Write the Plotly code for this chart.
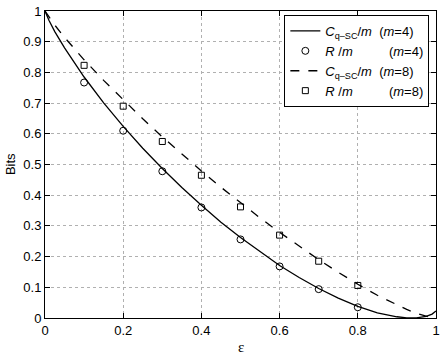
import plotly.graph_objects as go

# capacity curves
eps_curve = [0, 0.01, 0.025, 0.05, 0.1, 0.15, 0.2, 0.25, 0.3, 0.35, 0.4, 0.45, 0.5,
             0.55, 0.6, 0.65, 0.7, 0.75, 0.8, 0.85, 0.875, 0.9, 0.925, 0.95, 0.975, 0.99, 1]
cap_m4 = [1, 0.970, 0.933, 0.880, 0.785, 0.701, 0.624, 0.553, 0.487, 0.425, 0.367, 0.312, 0.262,
          0.215, 0.171, 0.132, 0.096, 0.065, 0.038, 0.017, 0.0095, 0.004, 0.0005, 0.0005, 0.0055, 0.0128, 0.023]
cap_m8 = [1, 0.980, 0.954, 0.914, 0.841, 0.774, 0.710, 0.649, 0.590, 0.533, 0.479, 0.426, 0.375,
          0.326, 0.279, 0.234, 0.190, 0.149, 0.110, 0.074, 0.058, 0.042, 0.028, 0.015, 0.0046, 0.0006, 0.0007]

# simulated rates (markers)
eps_pts = [0.1, 0.2, 0.3, 0.4, 0.5, 0.6, 0.7, 0.8]
rate_m4 = [0.767, 0.61, 0.478, 0.36, 0.256, 0.168, 0.094, 0.035]
rate_m8 = [0.823, 0.69, 0.575, 0.465, 0.362, 0.27, 0.185, 0.106]

x_ticks = [0, 0.2, 0.4, 0.6, 0.8, 1]
x_labels = ["0", "0.2", "0.4", "0.6", "0.8", "1"]
y_ticks = [i / 10 for i in range(11)]
y_labels = ["0", "0.1", "0.2", "0.3", "0.4", "0.5", "0.6", "0.7", "0.8", "0.9", "1"]

sp = "\u00a0"
name_c4 = "<i>C</i><sub>q\u2013SC</sub>/<i>m</i>" + sp * 2 + "(<i>m</i>=4)"
name_r4 = "<i>R</i>" + sp + "/<i>m</i>" + sp * 10 + "(<i>m</i>=4)"
name_c8 = "<i>C</i><sub>q\u2013SC</sub>/<i>m</i>" + sp * 2 + "(<i>m</i>=8)"
name_r8 = "<i>R</i>" + sp + "/<i>m</i>" + sp * 10 + "(<i>m</i>=8)"

fig = go.Figure()
fig.add_trace(go.Scatter(x=eps_curve, y=cap_m4, mode="lines", name=name_c4,
                         line=dict(color="black", width=1.3)))
fig.add_trace(go.Scatter(x=eps_pts, y=rate_m4, mode="markers", name=name_r4,
                         marker=dict(symbol="circle-open", size=7, color="black",
                                     line=dict(width=1))))
fig.add_trace(go.Scatter(x=eps_curve, y=cap_m8, mode="lines", name=name_c8,
                         line=dict(color="black", width=1.3, dash="dash")))
fig.add_trace(go.Scatter(x=eps_pts, y=rate_m8, mode="markers", name=name_r8,
                         marker=dict(symbol="square-open", size=6, color="black",
                                     line=dict(width=1))))

axis_style = dict(showline=True, linecolor="black", linewidth=1, mirror="ticks",
                  ticks="inside", ticklen=5, tickcolor="black", automargin=False,
                  ticklabeloverflow="allow",
                  showgrid=True, gridcolor="#b0b0b0", griddash="dot", gridwidth=1,
                  zeroline=False, tickfont=dict(size=13, color="black"))

fig.update_xaxes(range=[0, 1], tickvals=x_ticks, ticktext=x_labels, **axis_style)
fig.update_yaxes(range=[0, 1], tickvals=y_ticks, ticktext=y_labels, **axis_style)

fig.add_annotation(text="\u03b5", xref="paper", yref="paper", x=0.5, y=-0.094,
                   xanchor="center", yanchor="middle", showarrow=False,
                   font=dict(family="Liberation Serif", size=15, color="black"))
fig.add_annotation(text="Bits", xref="paper", yref="paper", x=-0.088, y=0.5,
                   xanchor="center", yanchor="middle", showarrow=False, textangle=-90,
                   font=dict(size=13, color="black"))

fig.update_layout(
    width=443, height=355,
    margin=dict(l=45, r=7, t=11, b=37),
    paper_bgcolor="white", plot_bgcolor="white",
    font=dict(family="Liberation Sans, Arial", size=13, color="black"),
    legend=dict(x=0.983, y=0.987, xanchor="right", yanchor="top",
                bgcolor="white", bordercolor="black", borderwidth=1,
                font=dict(size=13), tracegroupgap=0, itemwidth=30),
    showlegend=True,
)

# drop the default page margin so the figure sits at the window corner
fig.write_html("out.html", config={"displayModeBar": False},
               post_script="document.body.style.margin='0';")
